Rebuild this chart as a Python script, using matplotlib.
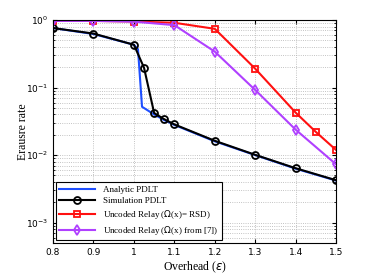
import matplotlib
matplotlib.use("Agg")
import matplotlib.pyplot as plt
from matplotlib.ticker import LogLocator, NullFormatter

# Overhead values
x_analytic = [0.8, 0.9, 1.0, 1.01, 1.02, 1.05, 1.075, 1.1, 1.2, 1.3, 1.4, 1.5]
y_analytic = [0.76, 0.62, 0.43, 0.37, 0.052, 0.040, 0.033, 0.028, 0.0160, 0.0100, 0.0063, 0.0042]

x_sim = [0.8, 0.9, 1.0, 1.025, 1.05, 1.075, 1.1, 1.2, 1.3, 1.4, 1.5]
y_sim = [0.76, 0.63, 0.43, 0.196, 0.042, 0.034, 0.0285, 0.0163, 0.0101, 0.0064, 0.00425]

x_rsd = [0.8, 0.9, 1.0, 1.1, 1.2, 1.3, 1.4, 1.45, 1.5]
y_rsd = [0.97, 0.97, 0.95, 0.91, 0.74, 0.19, 0.0425, 0.022, 0.0119]

x_ref7 = [0.8, 0.9, 1.0, 1.1, 1.2, 1.3, 1.4, 1.5]
y_ref7 = [0.97, 0.97, 0.945, 0.84, 0.34, 0.092, 0.0238, 0.0073]

x_ticks = [0.8, 0.9, 1.0, 1.1, 1.2, 1.3, 1.4, 1.5]
x_ticklabels = ["0.8", "0.9", "1", "1.1", "1.2", "1.3", "1.4", "1.5"]

serif = ["Liberation Serif", "DejaVu Serif"]

fig = plt.figure(figsize=(3.71, 2.74), dpi=100)
ax = fig.add_axes([0.143, 0.113, 0.763, 0.814])

ax.semilogy(x_analytic, y_analytic, color="#1f4fff", lw=1.5, label="Analytic PDLT")
ax.semilogy(x_sim, y_sim, color="black", lw=1.5, marker="o", ms=5,
            mfc="none", mew=1.3, label="Simulation PDLT")
ax.semilogy(x_rsd, y_rsd, color="#ff1010", lw=1.5, marker="s", ms=4.5,
            mfc="none", mew=1.3, label="Uncoded Relay ($\\Omega$(x)= RSD)")
ax.semilogy(x_ref7, y_ref7, color="#b040ff", lw=1.5, marker="d", ms=5.5,
            mfc="none", mew=1.3, label="Uncoded Relay ($\\Omega$(x) from [7])")

ax.set_xlim(0.8, 1.5)
ax.set_ylim(5e-4, 1.0)
ax.set_xticks(x_ticks)
ax.set_xticklabels(x_ticklabels)
ax.yaxis.set_major_locator(LogLocator(base=10, numticks=10))
ax.yaxis.set_minor_locator(LogLocator(base=10, subs=range(2, 10), numticks=20))
ax.yaxis.set_minor_formatter(NullFormatter())
ax.tick_params(labelsize=6.5, direction="in", length=3, top=True, right=True)
ax.tick_params(which="minor", direction="in", length=1.5, right=True)

ax.grid(True, which="major", linestyle=":", color="#b0b0b0", lw=0.6)
ax.grid(True, which="minor", axis="y", linestyle=":", color="#b0b0b0", lw=0.6)

ax.set_xlabel("Overhead ($\\varepsilon$)", fontsize=8.5, family=serif, labelpad=2)
ax.set_ylabel("Erausre rate", fontsize=8.5, family=serif, labelpad=-2)

leg = ax.legend(loc="lower left", prop={"family": serif, "size": 6.5},
                fancybox=False, framealpha=1, edgecolor="black",
                borderaxespad=0.3, handlelength=4, labelspacing=0.3)
leg.get_frame().set_linewidth(0.8)

fig.savefig("out.png", dpi=100)
